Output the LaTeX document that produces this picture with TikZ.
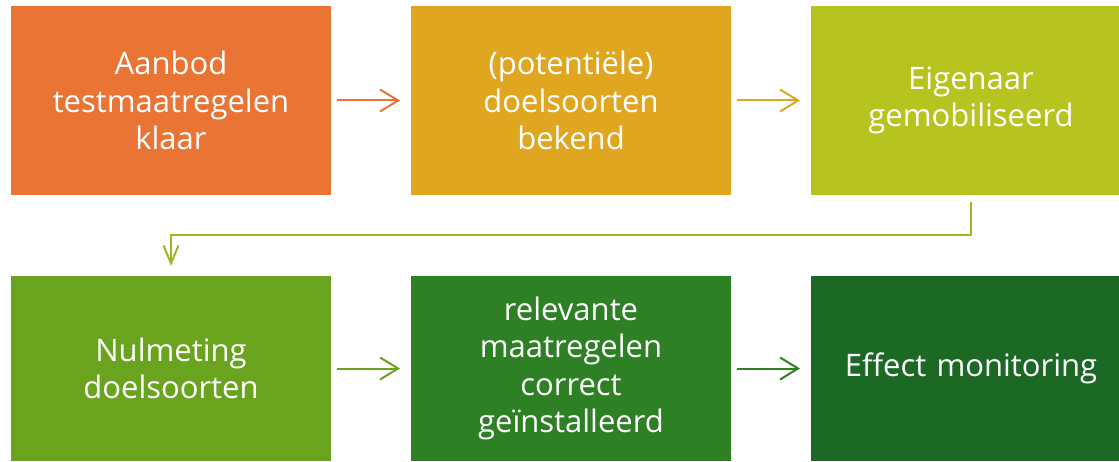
\documentclass[tikz,border=0pt]{standalone}
\usepackage{fontspec}
\setmainfont{Open Sans}
\usetikzlibrary{arrows.meta}

\definecolor{cOrange}{HTML}{E97434}
\definecolor{cGold}{HTML}{E0A61F}
\definecolor{cOlive}{HTML}{B7C31E}
\definecolor{cLime}{HTML}{6AA41E}
\definecolor{cGreen}{HTML}{2E8024}
\definecolor{cDark}{HTML}{1B6924}
\definecolor{cLink}{HTML}{9DB824}

\tikzstyle{flow_style}=[x=1pt,y=-1pt,
  stage/.style={rectangle,draw=none,inner sep=0pt,outer sep=0pt,minimum width=320pt,
    text=white,text width=310pt,align=center,font=\fontsize{31}{37.5}\selectfont},
  top/.style={stage,minimum height=189pt},
  bottom/.style={stage,minimum height=185pt},
  flow/.style={line width=2pt,-{Straight Barb[length=18pt,width=22pt,line width=2pt]},
    shorten <=6pt,shorten >=11pt},
  drop/.style={line width=2pt,-{Straight Barb[length=18pt,width=15pt,line width=2pt]},
    shorten <=7pt,shorten >=10pt},]

\begin{document}
\begin{tikzpicture}[flow_style]

    \useasboundingbox (0,0) rectangle (1119,462);
    \clip (0,0) rectangle (1119,462);

    % Draw the upper row of stages
    \node[top, fill=cOrange] (S-1) at (171,100.5) {Aanbod\\testmaatregelen\\klaar};
    \node[top, fill=cGold] (S-2) at (571,100.5) {(potentiële)\\doelsoorten\\bekend};
    \node[top, fill=cOlive] (S-3) at (971,100.5) {Eigenaar\\gemobiliseerd};

    % Draw the lower row of stages
    \node[bottom, fill=cLime] (S-4) at (171,368.5) {Nulmeting\\doelsoorten};
    \node[bottom, fill=cGreen] (S-5) at (571,368.5) {relevante\\maatregelen\\correct\\geïnstalleerd};
    \node[bottom, fill=cDark] (S-6) at (971,368.5) {Effect monitoring};

    % Arrows between neighbouring stages
    \draw[flow, cOrange] (S-1) -- (S-2);
    \draw[flow, cGold] (S-2) -- (S-3);
    \draw[flow, cLime] (S-4) -- (S-5);
    \draw[flow, cGreen] (S-5) -- (S-6);

    % Wrap from the end of the upper row to the start of the lower row
    \draw[drop, cLink] (S-3.south) -- ++(0,40) -| (S-4.north);

\end{tikzpicture}
\end{document}
